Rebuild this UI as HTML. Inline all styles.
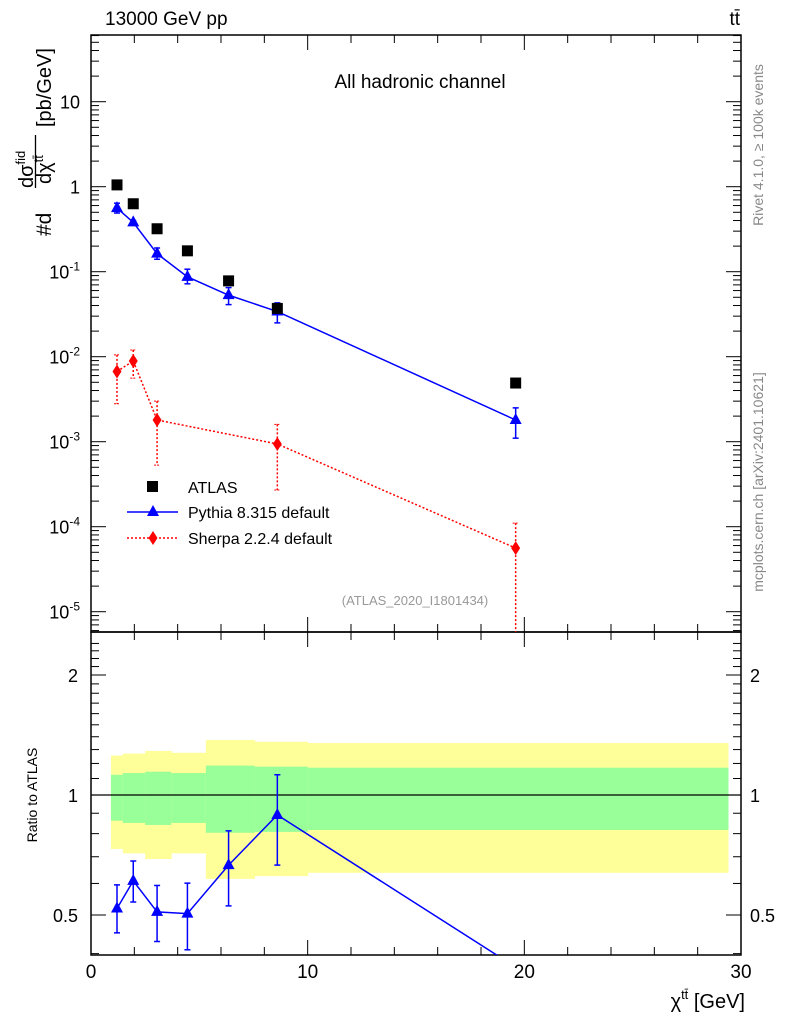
<!DOCTYPE html>
<html><head><meta charset="utf-8"><style>
body{margin:0;background:#fff;}
svg text{font-family:"Liberation Sans",sans-serif;}
</style></head><body>
<svg id="c" width="786" height="1024" xmlns="http://www.w3.org/2000/svg"></svg>
<script>
const xVals=[1.2,1.95,3.05,4.45,6.35,8.6,19.6];
const atlasVals=[1.05,0.63,0.32,0.176,0.078,0.037,0.0049];
const pythiaVals=[0.56,0.38,0.163,0.087,0.053,0.034,0.0018];
const pythiaUp=[0.64,0.40,0.19,0.107,0.065,0.043,0.0025];
const pythiaDn=[0.49,0.36,0.14,0.072,0.041,0.025,0.0011];
const sherpaX=[1.2,1.95,3.05,8.6,19.6];
const sherpaVals=[0.0067,0.0089,0.0018,0.00094,0.000056];
const sherpaUp=[0.0105,0.012,0.003,0.0016,0.00011];
const sherpaDn=[0.0028,0.0056,0.00053,0.00027,0.000004];
const binEdges=[0.92,1.47,2.5,3.7,5.3,7.55,10,29.4];
const yelHi=[1.256,1.27,1.29,1.276,1.374,1.36,1.35];
const yelLo=[0.732,0.714,0.691,0.714,0.616,0.626,0.638];
const grnHi=[1.124,1.135,1.144,1.135,1.185,1.178,1.171];
const grnLo=[0.862,0.851,0.841,0.851,0.804,0.808,0.817];
const ratioVals=[0.519,0.609,0.509,0.504,0.667,0.891,0.37];
const ratioUp=[0.595,0.683,0.593,0.601,0.813,1.124,0.37];
const ratioDn=[0.451,0.539,0.429,0.409,0.527,0.667,0.37];
const xTicks=[0,10,20,30];

const svg=document.getElementById('c');
const NS='http://www.w3.org/2000/svg';
const L=91,R=741,T=35,M=632,B=955;
const X=v=>L+(v/30)*(R-L);
const Y=v=>186.7-85*Math.log10(v);
const RY=v=>795-120*Math.log2(v);
function el(t,a,p){const e=document.createElementNS(NS,t);for(const k in a)e.setAttribute(k,a[k]);(p||svg).appendChild(e);return e;}
function txt(s,x,y,sz,anch,fill,p){const e=el('text',{x:x,y:y,'font-size':sz,'text-anchor':anch||'start',fill:fill||'#000'},p);e.textContent=s;return e;}

const defs=el('defs',{});
const cp=el('clipPath',{id:'cm'},defs);el('rect',{x:L,y:T,width:R-L,height:M-T},cp);
const cr=el('clipPath',{id:'cr'},defs);el('rect',{x:L,y:M,width:R-L,height:B-M},cr);

const bands=el('g',{'clip-path':'url(#cr)'});


for(let i=0;i<binEdges.length-1;i++){
  const x0=X(binEdges[i]),x1=X(binEdges[i+1]);
  const y=el('rect',{x:x0,y:RY(yelHi[i]),width:x1-x0+0.5,height:RY(yelLo[i])-RY(yelHi[i]),fill:'#ffff99'},bands);
  
  
  const g=el('rect',{x:x0,y:RY(grnHi[i]),width:x1-x0+0.5,height:RY(grnLo[i])-RY(grnHi[i]),fill:'#99ff99'},bands);
  
  
}
el('line',{x1:L,x2:R,y1:RY(1),y2:RY(1),stroke:'#000','stroke-width':1.2});

el('rect',{x:L,y:T,width:R-L,height:M-T,fill:'none',stroke:'#000','stroke-width':1.5});
el('rect',{x:L,y:M,width:R-L,height:B-M,fill:'none',stroke:'#000','stroke-width':1.5});

for(let v=0;v<=30;v+=2){
  const big=v%10===0,len=big?15:8,x=X(v);
  for(const [y0,d] of [[B,-1],[M,1],[M,-1],[T,1]]) el('line',{x1:x,x2:x,y1:y0,y2:y0+d*len,stroke:'#000','stroke-width':1});
}
xTicks.forEach(v=>{const t=txt(String(v),X(v),978,19,'middle');

});

for(let e=-6;e<=1;e++){for(let m=1;m<10;m++){const v=m*Math.pow(10,e),y=Y(v);if(y<T||y>M)continue;const len=m===1?15:8;
el('line',{x1:L,x2:L+len,y1:y,y2:y,stroke:'#000'});el('line',{x1:R,x2:R-len,y1:y,y2:y,stroke:'#000'});}}
[[1,'10'],[0,'1']].forEach(([e,s])=>txt(s,80,Y(Math.pow(10,e))+7,18,'end'));
for(let e=-1;e>=-5;e--){const t=el('text',{x:80,y:Y(Math.pow(10,e))+7,'font-size':18,'text-anchor':'end'});
t.innerHTML='10<tspan font-size="12" dy="-8">'+e+'</tspan>';}

for(let v=0.4;v<=2.5;v+=0.1){const y=RY(v);if(y<M||y>B)continue;const big=[0.5,1,2].some(q=>Math.abs(q-v)<1e-6);const len=big?15:8;
el('line',{x1:L,x2:L+len,y1:y,y2:y,stroke:'#000'});el('line',{x1:R,x2:R-len,y1:y,y2:y,stroke:'#000'});}
[[2,'2'],[1,'1'],[0.5,'0.5']].forEach(([v,s])=>{txt(s,78,RY(v)+7,18,'end');txt(s,750,RY(v)+7,18,'start');});

const gm=el('g',{'clip-path':'url(#cm)'});
const sp=el('polyline',{points:sherpaX.map((x,i)=>X(x)+','+Y(sherpaVals[i])).join(' '),fill:'none',stroke:'#f00','stroke-width':1.5,'stroke-dasharray':'2,2'},gm);


sherpaX.forEach((x,i)=>{const px=X(x);
el('line',{x1:px,x2:px,y1:Y(sherpaUp[i]),y2:Y(sherpaDn[i]),stroke:'#f00','stroke-width':1.5,'stroke-dasharray':'2,2'},gm);
el('line',{x1:px-3,x2:px+3,y1:Y(sherpaUp[i]),y2:Y(sherpaUp[i]),stroke:'#f00','stroke-dasharray':'2,1'},gm);
el('line',{x1:px-3,x2:px+3,y1:Y(sherpaDn[i]),y2:Y(sherpaDn[i]),stroke:'#f00','stroke-dasharray':'2,1'},gm);
const py=Y(sherpaVals[i]);const d=el('polygon',{points:`${px},${py-7} ${px+4.5},${py} ${px},${py+7} ${px-4.5},${py}`,fill:'#f00'},gm);

});
const pl=el('polyline',{points:xVals.map((x,i)=>X(x)+','+Y(pythiaVals[i])).join(' '),fill:'none',stroke:'#00f','stroke-width':1.5},gm);


xVals.forEach((x,i)=>{const px=X(x),py=Y(pythiaVals[i]);
el('line',{x1:px,x2:px,y1:Y(pythiaUp[i]),y2:Y(pythiaDn[i]),stroke:'#00f','stroke-width':1.5},gm);
el('line',{x1:px-3,x2:px+3,y1:Y(pythiaUp[i]),y2:Y(pythiaUp[i]),stroke:'#00f','stroke-width':1.5},gm);
el('line',{x1:px-3,x2:px+3,y1:Y(pythiaDn[i]),y2:Y(pythiaDn[i]),stroke:'#00f','stroke-width':1.5},gm);
const t=el('polygon',{points:`${px},${py-7} ${px+6},${py+4} ${px-6},${py+4}`,fill:'#00f'},gm);

});
xVals.forEach((x,i)=>{const px=X(x),py=Y(atlasVals[i]);
const s=el('rect',{x:px-5.5,y:py-5.5,width:11,height:11,fill:'#000'},gm);

});

const gr=el('g',{'clip-path':'url(#cr)'});
const rl=el('polyline',{points:xVals.map((x,i)=>X(x)+','+RY(ratioVals[i])).join(' '),fill:'none',stroke:'#00f','stroke-width':1.5},gr);


xVals.forEach((x,i)=>{const px=X(x),py=RY(ratioVals[i]);
el('line',{x1:px,x2:px,y1:RY(ratioUp[i]),y2:RY(ratioDn[i]),stroke:'#00f','stroke-width':1.5},gr);
el('line',{x1:px-3,x2:px+3,y1:RY(ratioUp[i]),y2:RY(ratioUp[i]),stroke:'#00f','stroke-width':1.5},gr);
el('line',{x1:px-3,x2:px+3,y1:RY(ratioDn[i]),y2:RY(ratioDn[i]),stroke:'#00f','stroke-width':1.5},gr);
const t=el('polygon',{points:`${px},${py-7} ${px+6},${py+4} ${px-6},${py+4}`,fill:'#00f'},gr);

});

const lg=el('g',{});


el('rect',{x:147,y:481,width:11,height:11,fill:'#000'},lg);
txt('ATLAS',188,493,16,'start','#000',lg);
el('line',{x1:127,x2:178,y1:512,y2:512,stroke:'#00f','stroke-width':1.5},lg);
el('polygon',{points:'153,505 159,516 147,516',fill:'#00f'},lg);
txt('Pythia 8.315 default',188,518,16,'start','#000',lg);
el('line',{x1:127,x2:178,y1:538,y2:538,stroke:'#f00','stroke-width':1.5,'stroke-dasharray':'2,2'},lg);
el('polygon',{points:'153,531 157.5,538 153,545 148.5,538',fill:'#f00'},lg);
txt('Sherpa 2.2.4 default',188,544,16,'start','#000',lg);

txt('13000 GeV pp',105,25,19);
const tt=el('text',{x:740,y:25,'font-size':19,'text-anchor':'end'});tt.innerHTML='tt&#772;';
txt('All hadronic channel',420,88,19,'middle');
txt('(ATLAS_2020_I1801434)',415,605,13,'middle','#999');
const r1=txt('Rivet 4.1.0, \u2265 100k events',0,0,14,'middle','#888');r1.setAttribute('transform','translate(763,145) rotate(-90)');
const r2=txt('mcplots.cern.ch [arXiv:2401.10621]',0,0,14,'middle','#888');r2.setAttribute('transform','translate(763,482) rotate(-90)');
const yg=el('g',{});


const a1=txt('#d',0,0,21,'start','#000',yg);a1.setAttribute('transform','translate(51,236) rotate(-90)');
const a2=el('text',{'font-size':20,transform:'translate(33,188) rotate(-90)'},yg);a2.innerHTML='d\u03c3<tspan font-size="13" dy="-8">fid</tspan>';
el('line',{x1:35.5,x2:35.5,y1:135,y2:188,stroke:'#000','stroke-width':1.3},yg);
const a3=el('text',{'font-size':20,transform:'translate(51,184) rotate(-90)'},yg);a3.innerHTML='d\u03c7<tspan font-size="13" dy="-8">tt&#772;</tspan>';
const a4=txt('[pb/GeV]',0,0,20,'start','#000',yg);a4.setAttribute('transform','translate(51,127) rotate(-90)');
const rt=txt('Ratio to ATLAS',0,0,14,'middle');rt.setAttribute('transform','translate(37,795) rotate(-90)');
const xt=el('text',{x:745,y:1008,'font-size':20,'text-anchor':'end'});xt.innerHTML='\u03c7<tspan font-size="13" dy="-9">tt&#772;</tspan><tspan dy="9"> [GeV]</tspan>';
</script>
</body></html>
